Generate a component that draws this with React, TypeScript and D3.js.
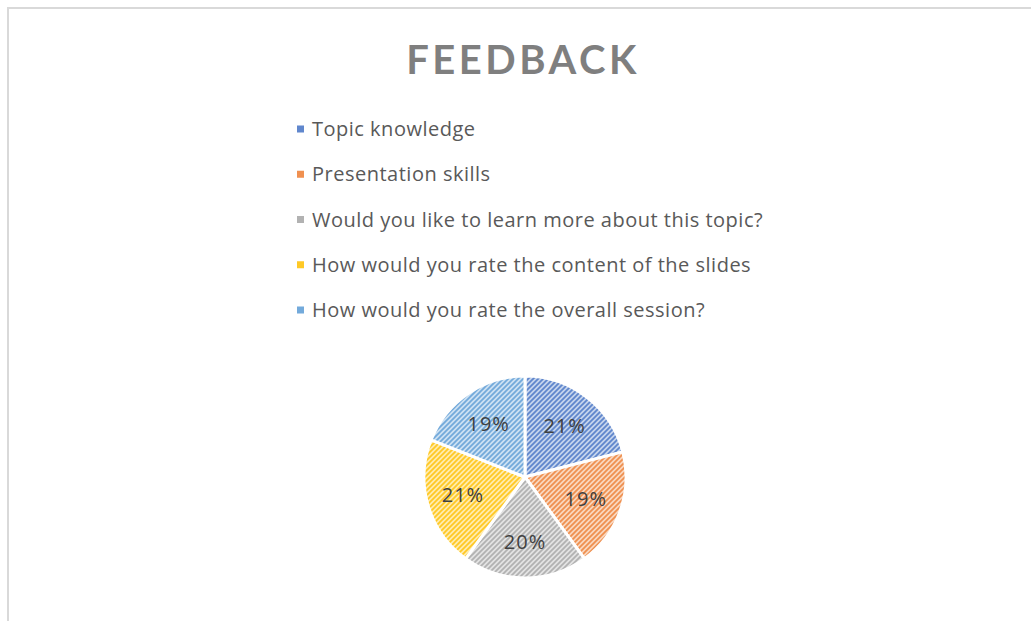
import React from "react";
import * as d3 from "d3";

const categories = [
  "Topic knowledge",
  "Presentation skills",
  "Would you like to learn more about this topic?",
  "How would you rate the content of the slides",
  "How would you rate the overall session?",
];
const values = [21, 19, 20, 21, 19];
const colors = ["#4472C4", "#ED7D31", "#A5A5A5", "#FFC000", "#5B9BD5"];
const title = "FEEDBACK";

const W = 1031;
const H = 621;

export default function App() {
  const cx = 525;
  const cy = 477;
  const r = 101;
  const total = d3.sum(values);
  const pie = d3.pie<number>().sort(null).value((d) => d)(values);
  const arc = d3.arc<d3.PieArcDatum<number>>().innerRadius(0).outerRadius(r);
  const labelArc = d3.arc<d3.PieArcDatum<number>>().innerRadius(r * 0.64).outerRadius(r * 0.64);
  const legendY = d3.scalePoint<number>().domain(d3.range(categories.length)).range([129, 310]);
  const ps = 5;

  return (
    <svg width={W} height={H} style={{ position: "fixed", left: 0, top: 0 }} fontFamily="'Open Sans', sans-serif">
      <defs>
        {colors.map((c, i) => {
          const bg = d3.interpolateRgb(c, "#ffffff")(0.68);
          return (
            <pattern key={i} id={`pat${i}`} patternUnits="userSpaceOnUse" width={ps} height={ps}>
              <rect width={ps} height={ps} fill={bg} />
              <path d={`M0,${ps} L${ps},0 M${-ps / 2},${ps / 2} L${ps / 2},${-ps / 2} M${ps / 2},${ps * 1.5} L${ps * 1.5},${ps / 2}`} stroke={c} strokeWidth={1.7} opacity={0.8} />
            </pattern>
          );
        })}
      </defs>
      <rect width={W} height={H} fill="#fff" />
      <path d={`M8,${H} V8 H${W}`} fill="none" stroke="#d9d9d9" strokeWidth={2} />
      <text x={523} y={74} textAnchor="middle" fontSize={40} fontWeight="bold" fill="#7f7f7f" letterSpacing={3.5} fontFamily="Lato, sans-serif">
        {title}
      </text>
      {categories.map((c, i) => (
        <g key={c}>
          <rect x={297} y={legendY(i)! - 3.5} width={7} height={7} fill={colors[i]} opacity={0.85} />
          <text x={312} y={legendY(i)!} dy="0.35em" fontSize={20} letterSpacing={0.5} fill="#595959">
            {c}
          </text>
        </g>
      ))}
      <g transform={`translate(${cx},${cy})`}>
        {pie.map((p, i) => (
          <path key={i} d={arc(p)!} fill={`url(#pat${i})`} stroke="#fff" strokeWidth={3} strokeLinejoin="round" />
        ))}
        {pie.map((p, i) => {
          const [x, y] = labelArc.centroid(p);
          return (
            <text key={i} x={x} y={y} dy="0.35em" textAnchor="middle" fontSize={20} letterSpacing={1} fill="#404040">
              {`${Math.round((values[i] / total) * 100)}%`}
            </text>
          );
        })}
      </g>
    </svg>
  );
}
